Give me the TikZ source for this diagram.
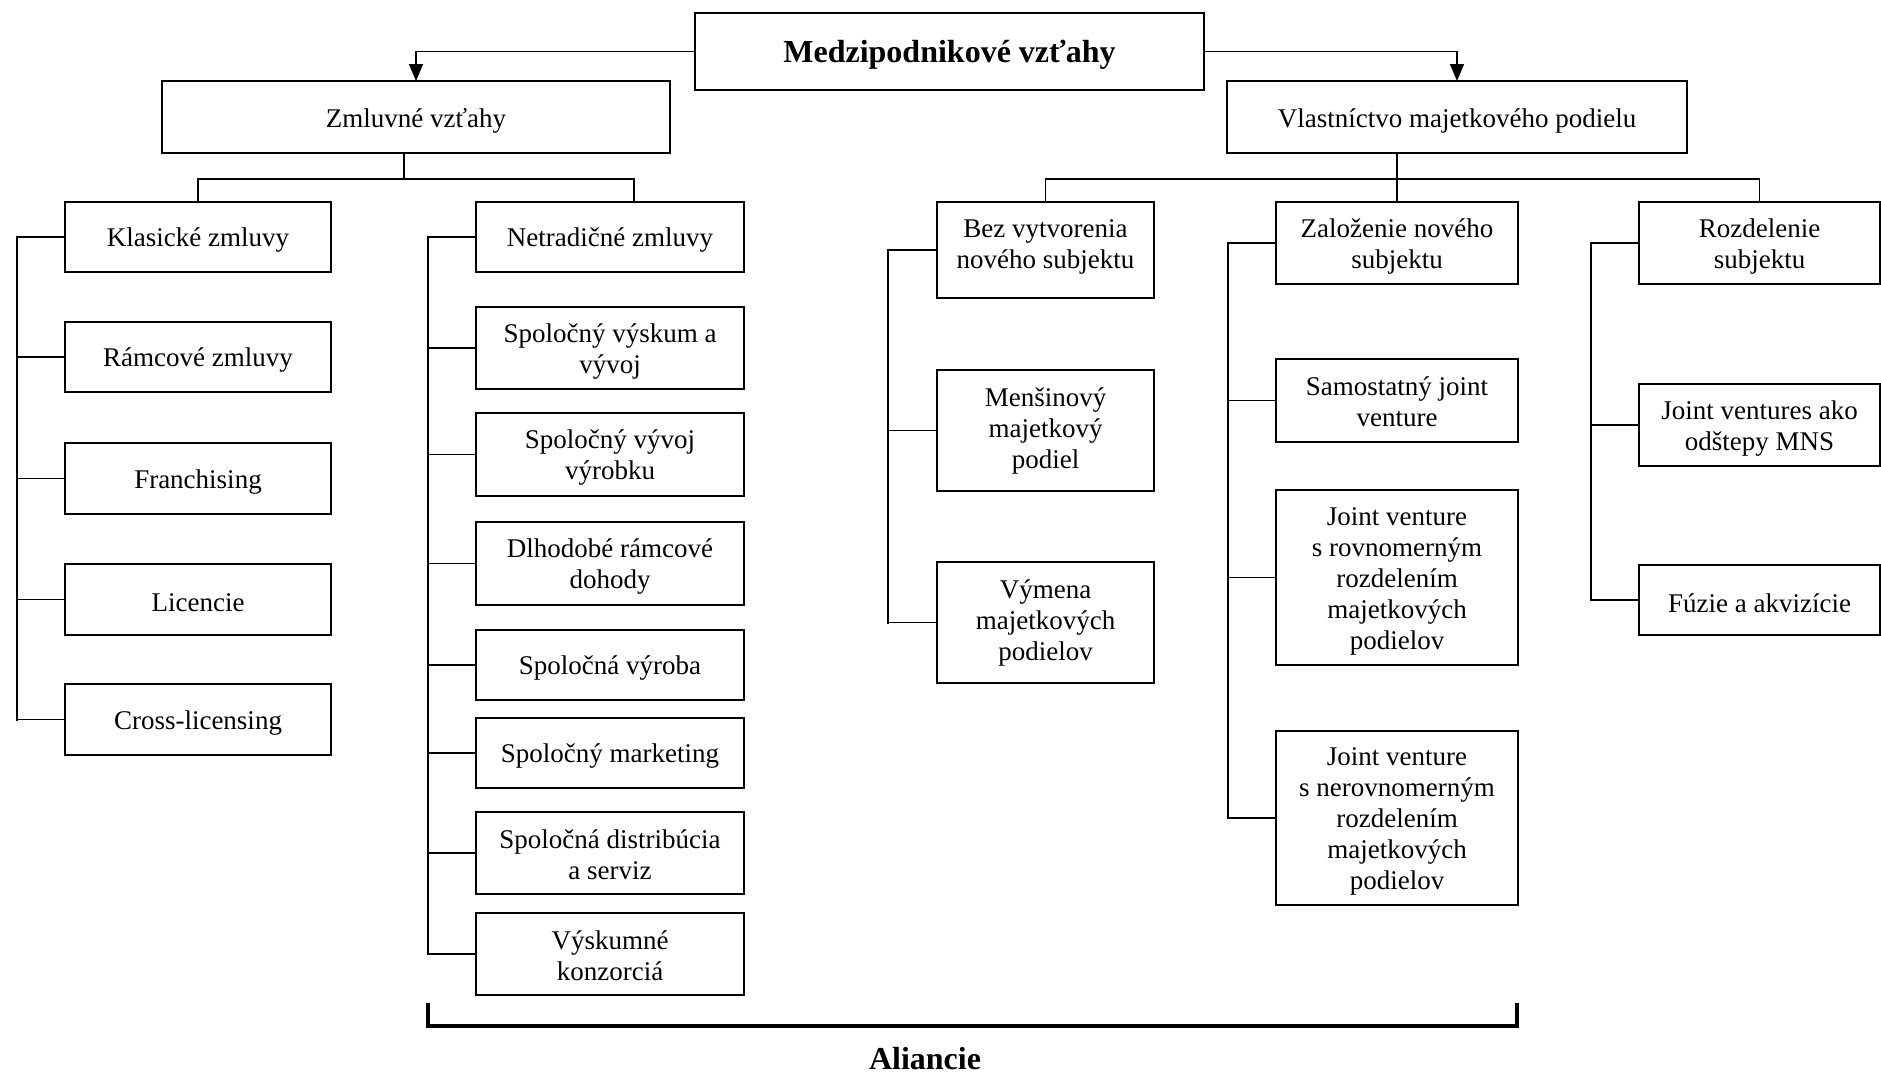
\documentclass[tikz,border=0pt]{standalone}
\usepackage{fontspec}
\setmainfont{Liberation Serif}
\usetikzlibrary{arrows.meta}
\tikzset{
  box/.style={draw, line width=1.8pt, inner sep=0pt, outer sep=0pt},
  txt/.style={inner sep=0pt, align=center, font=\fontsize{27}{31}\selectfont},
  titletxt/.style={inner sep=0pt, font=\fontsize{32}{36}\selectfont\bfseries},
  tree/.style={line width=1.4pt},
  vline/.style={line width=2.3pt, line cap=rect},
  stubA/.style={line width=2.6pt},
  stubB/.style={line width=1.3pt},
  arr/.style={line width=1.6pt, -{Triangle[length=17pt,width=14pt]}},
  brace/.style={line width=3.2pt, line join=miter},
  lbl/.style={font=\fontsize{32}{36}\selectfont\bfseries, inner sep=0pt},
}
% \bx[text shift]{name}{x1}{y1}{x2}{y2}{text}
\newcommand\bx[7][-3.5]{%
  \node[box, minimum width={#5-#3}, minimum height={#6-#4}] (#2) at ({(#3+#5)/2},{(#4+#6)/2}) {};
  \node[txt] (#2t) at ([yshift=#1pt]#2.center) {#7};}
\begin{document}
\begin{tikzpicture}[x=1pt,y=-1pt]
\useasboundingbox (0,0) rectangle (1881,1074);
% boxes
\node[box, line width=2pt, minimum width=509, minimum height=77] (top) at (949.5,51.5) {};
\node[titletxt] (topt) at ([yshift=-3.5pt]top.center) {Medzipodnikové vzťahy};
\bx{zml}{162}{81}{670}{153}{Zmluvné vzťahy}
\bx{vl}{1227}{81}{1687}{153}{Vlastníctvo majetkového podielu}
\bx{klas}{65}{202}{331}{272}{Klasické zmluvy}
\bx{ram}{65}{322}{331}{392}{Rámcové zmluvy}
\bx{fran}{65}{443}{331}{514}{Franchising}
\bx{lic}{65}{564}{331}{635}{Licencie}
\bx{cross}{65}{684}{331}{755}{Cross-licensing}
\bx{netr}{476}{202}{744}{272}{Netradičné zmluvy}
\bx{na}{476}{307}{744}{389}{Spoločný výskum a\\vývoj}
\bx{nb}{476}{413}{744}{496}{Spoločný vývoj\\výrobku}
\bx{nc}{476}{522}{744}{605}{Dlhodobé rámcové\\dohody}
\bx[-3]{nd}{476}{630}{744}{700}{Spoločná výroba}
\bx[-3]{ne}{476}{718}{744}{788}{Spoločný marketing}
\bx[-1.5]{nf}{476}{812}{744}{894}{Spoločná distribúcia\\a serviz}
\bx[-1.5]{ng}{476}{913}{744}{995}{Výskumné\\konzorciá}
\bx[3.5]{bez}{937}{202}{1154}{298}{Bez vytvorenia\\nového subjektu}
\bx[0]{ba}{937}{370}{1154}{491}{Menšinový\\majetkový\\podiel}
\bx[0]{bb}{937}{562}{1154}{683}{Výmena\\majetkových\\podielov}
\bx{zal}{1276}{202}{1518}{284}{Založenie nového\\subjektu}
\bx[-1.5]{za}{1276}{359}{1518}{442}{Samostatný joint\\venture}
\bx{zb}{1276}{490}{1518}{665}{Joint venture\\s rovnomerným\\rozdelením\\majetkových\\podielov}
\bx{zc}{1276}{731}{1518}{905}{Joint venture\\s nerovnomerným\\rozdelením\\majetkových\\podielov}
\bx{roz}{1639}{202}{1880}{284}{Rozdelenie\\subjektu}
\bx{ra}{1639}{384}{1880}{466}{Joint ventures ako\\odštepy MNS}
\bx{rb}{1639}{565}{1880}{635}{Fúzie a akvizície}
% top arrows
\draw[arr] (top.west) -| (zml.north);
\draw[arr] (top.east) -| (vl.north);
% contractual tree
\coordinate (zbar) at (404,179);
\coordinate (ntop) at ([xshift=24pt]netr.north);
\draw[tree] (zml.south -| zbar) -- (zbar);
\draw[tree] (klas.north) |- (zbar) -| (ntop);
% ownership tree
\coordinate (vbar) at (1396,179);
\draw[tree] (zal.north |- vl.south) -- (zal.north);
\draw[tree] (bez.north) |- (vbar) -| (roz.north);
% side brackets
\coordinate (kx) at (17,0);
\draw[vline] (klas.west -| kx) -- (cross.west -| kx);
\draw[stubA] (klas.west -| kx) -- (klas.west);
\foreach \n in {ram,fran,lic,cross} \draw[stubB] (\n.west -| kx) -- (\n.west);
\coordinate (nx) at (428,0);
\draw[vline] (netr.west -| nx) -- (ng.west -| nx);
\draw[stubA] (netr.west -| nx) -- (netr.west);
\foreach \n in {na,nb,nc,nd,ne,nf,ng} \draw[stubB] (\n.west -| nx) -- (\n.west);
\coordinate (bx) at (888,0);
\draw[vline] (bez.west -| bx) -- (bb.west -| bx);
\draw[stubA] (bez.west -| bx) -- (bez.west);
\foreach \n in {ba,bb} \draw[stubB] (\n.west -| bx) -- (\n.west);
\coordinate (zx) at (1228,0);
\draw[vline] (zal.west -| zx) -- (zc.west -| zx);
\draw[stubA] (zal.west -| zx) -- (zal.west);
\foreach \n in {za,zb,zc} \draw[stubB] (\n.west -| zx) -- (\n.west);
\coordinate (rx) at (1591,0);
\draw[vline] (roz.west -| rx) -- (rb.west -| rx);
\draw[stubA] (roz.west -| rx) -- (roz.west);
\foreach \n in {ra,rb} \draw[stubB] (\n.west -| rx) -- (\n.west);
% alliance bracket
\coordinate (bl) at (428,1003);
\coordinate (br) at (1517,1003);
\draw[brace] (bl) |- (1517,1026) -- (br);
\node[lbl, anchor=base] (ali) at (925,1069) {Aliancie};
\end{tikzpicture}
\end{document}
